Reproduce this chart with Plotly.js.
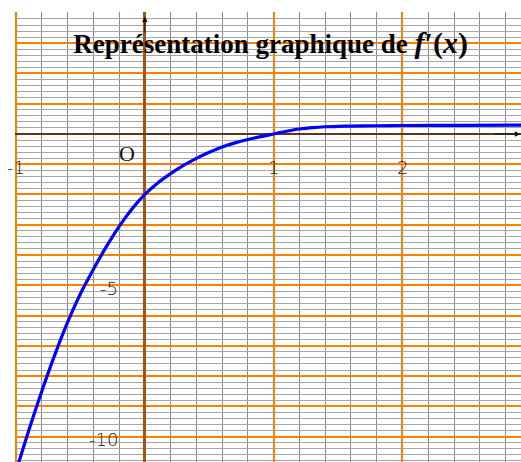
<!DOCTYPE html>
<html>
<head>
<meta charset="utf-8">
<script src="https://cdn.plot.ly/plotly-3.0.1.min.js"></script>
<style>
  html, body { margin: 0; padding: 0; background: #fff; }
  #graph { width: 521px; height: 462px; }
</style>
</head>
<body>
<div id="graph"></div>
<script>
// values of f'(x)
const curveX = [-1.0, -0.9, -0.8, -0.7, -0.6, -0.5, -0.4, -0.3, -0.2, -0.1, 0.0, 0.1, 0.2, 0.3, 0.4, 0.5, 0.6, 0.7, 0.8, 0.9, 1.0, 1.1, 1.2, 1.3, 1.4, 1.5, 1.6, 1.8, 2.0, 2.5, 2.92];
const curveY = [-11.14, -9.78, -8.5, -7.31, -6.23, -5.28, -4.48, -3.73, -3.06, -2.48, -2.0, -1.62, -1.31, -1.04, -0.805, -0.605, -0.43, -0.295, -0.185, -0.09, 0.0, 0.09, 0.165, 0.21, 0.238, 0.252, 0.262, 0.272, 0.28, 0.286, 0.29];

// axis labels written on the grid
const xLabelVals = [-1, 1, 2];
const xLabelText = ["-1", "1", "2"];
const yLabelVals = [-5, -10];
const yLabelText = ["-5", "-10"];

const labelFont = { family: "DejaVu Sans", size: 18, color: "#222", weight: 300 };

const annotations = [];

xLabelVals.forEach((v, i) => {
    annotations.push({
        x: v, y: -1.1, xref: "x", yref: "y",
        text: xLabelText[i], showarrow: false,
        xanchor: "center", yanchor: "middle", font: labelFont
    });
});

yLabelVals.forEach((v, i) => {
    annotations.push({
        x: -0.19, y: v - 0.1, xref: "x", yref: "y",
        text: yLabelText[i], showarrow: false,
        xanchor: "right", yanchor: "middle", font: labelFont
    });
});

// origin
annotations.push({
    x: -0.142, y: -0.63, xref: "x", yref: "y", text: "O", showarrow: false,
    xanchor: "center", yanchor: "middle",
    font: { family: "Liberation Serif", size: 22, color: "#111" }
});

// axis arrows
annotations.push({
    x: 0, y: 3.88, ax: 0, ay: 3.3, xref: "x", yref: "y", axref: "x", ayref: "y",
    text: "", showarrow: true, arrowhead: 2, arrowsize: 1.1, arrowwidth: 1, arrowcolor: "#111"
});
annotations.push({
    x: 2.915, y: 0, ax: 2.7, ay: 0, xref: "x", yref: "y", axref: "x", ayref: "y",
    text: "", showarrow: true, arrowhead: 2, arrowsize: 1.1, arrowwidth: 1, arrowcolor: "#111"
});

const trace = {
    x: curveX,
    y: curveY,
    type: "scatter",
    mode: "lines",
    line: { color: "#0000ff", width: 3.2, shape: "spline", smoothing: 0.6 },
    hoverinfo: "skip"
};

const layout = {
    width: 521,
    height: 462,
    margin: { l: 15, r: 0, t: 12, b: 0 },
    paper_bgcolor: "#fff",
    plot_bgcolor: "#fff",
    showlegend: false,
    title: {
        text: "<b>Représentation graphique de&nbsp;<span style='font-size:30px'><i>f</i>′(<i>x</i>)</span></b>",
        font: { family: "Liberation Serif", size: 27, color: "#000" },
        xref: "paper", x: 0.505, xanchor: "center",
        yref: "container", y: 0.905, yanchor: "middle"
    },
    xaxis: {
        range: [-1.008, 2.92],
        dtick: 1, tick0: 0,
        showgrid: true, gridcolor: "#ff8000", gridwidth: 2,
        minor: { dtick: 0.2, showgrid: true, gridcolor: "#8c8c8c", gridwidth: 1 },
        zeroline: true, zerolinecolor: "#a0560e", zerolinewidth: 3,
        showticklabels: false, ticks: "", showline: false,
        fixedrange: true
    },
    yaxis: {
        range: [-10.84, 4.03],
        dtick: 1, tick0: 0,
        showgrid: true, gridcolor: "#ff8000", gridwidth: 2,
        minor: { dtick: 0.2, showgrid: true, gridcolor: "#a6a6a6", gridwidth: 1 },
        zeroline: true, zerolinecolor: "#5a3a1a", zerolinewidth: 2,
        showticklabels: false, ticks: "", showline: false,
        fixedrange: true
    },
    annotations: annotations
};

Plotly.newPlot("graph", [trace], layout, { staticPlot: true });
</script>
</body>
</html>
